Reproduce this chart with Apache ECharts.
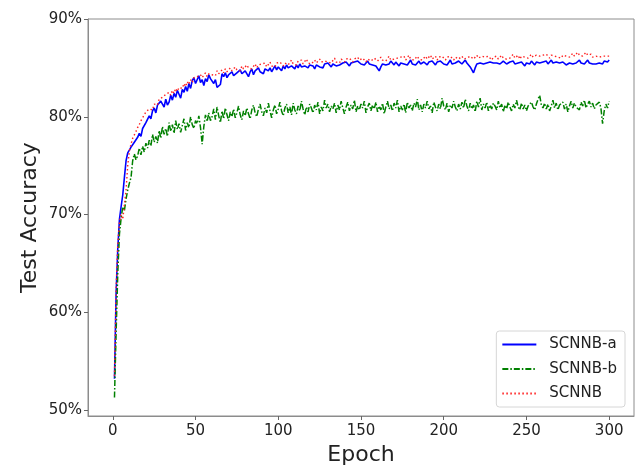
<!DOCTYPE html>
<html>
<head>
<meta charset="utf-8">
<script src="https://cdn.jsdelivr.net/npm/echarts@6/dist/echarts.min.js"></script>
<style>
  html, body { margin: 0; padding: 0; background: #fff; }
  #chart { width: 637px; height: 465px; }
</style>
</head>
<body>
<div id="chart"></div>
<script>
var seriesNames = ['SCNNB-a', 'SCNNB-b', 'SCNNB'];
var xTicks = [0, 50, 100, 150, 200, 250, 300];
var yTicks = [50, 60, 70, 80, 90];

// test accuracy (%) per epoch
var accA = [
  53.2, 62.0, 66.5, 69.5, 70.8, 72.0, 73.8, 75.5, 76.3, 76.6,
  76.9, 77.0, 77.4, 77.2, 77.9, 78.3, 78.0, 78.8, 78.6, 79.4,
  79.2, 80.1, 79.8, 80.6, 80.9, 80.4, 81.2, 81.0, 81.6, 81.3,
  81.0, 81.8, 81.2, 81.5, 82.2, 81.7, 82.4, 82.0, 82.7, 82.3,
  81.9, 82.8, 82.5, 83.1, 82.6, 83.4, 82.9, 83.7, 84.0, 83.4,
  83.6, 84.2, 83.5, 83.8, 83.2, 83.9, 83.6, 84.3, 83.9, 84.1,
  83.4, 83.8, 83.0, 82.9, 83.3, 84.4, 84.1, 84.5, 84.0, 84.3,
  84.1, 84.6, 84.2, 84.0, 84.5, 84.3, 84.8, 84.4, 84.2, 84.7,
  84.5, 84.1, 84.6, 84.9, 84.3, 84.7, 84.5, 85.0, 84.6, 84.8,
  84.4, 84.9, 85.1, 84.7, 85.0, 84.6, 84.9, 85.2, 84.8, 85.1,
  85.0, 84.7, 85.2, 84.9, 85.3, 85.0, 84.8, 85.2, 85.1, 84.9,
  85.3, 85.0, 85.4, 85.1, 84.9, 85.2, 85.4, 85.0, 85.3, 85.1,
  85.2, 84.9, 85.3, 85.5, 85.1, 85.3, 85.0, 85.4, 85.2, 85.5,
  85.3, 85.1, 85.4, 85.6, 85.2, 85.4, 85.3, 85.1, 85.5, 85.3,
  85.6, 85.4, 85.2, 85.5, 85.3, 85.6, 85.4, 85.7, 85.5, 85.4,
  85.6, 85.3, 85.5, 85.7, 85.4, 85.6, 85.3, 85.5, 85.2, 85.0,
  84.7, 85.1, 85.4, 85.6, 85.3, 85.5, 85.4, 85.7, 85.5, 85.3,
  85.6, 85.4, 85.2, 85.5, 85.7, 85.4, 85.6, 85.3, 85.5, 85.8,
  85.4, 85.6, 85.3, 85.5, 85.7, 85.4, 85.2, 85.6, 85.5, 85.3,
  85.6, 85.4, 85.7, 85.5, 85.3, 85.6, 85.4, 85.7, 85.5, 85.4,
  85.6, 85.3, 85.5, 85.8, 85.4, 85.6, 85.5, 85.3, 85.7, 85.5,
  85.4, 85.6, 85.8, 85.5, 85.3, 85.1, 84.8, 84.5, 85.0, 85.4,
  85.6, 85.5, 85.7, 85.4, 85.6, 85.5, 85.3, 85.6, 85.4, 85.5,
  85.7, 85.5, 85.6, 85.4, 85.5, 85.7, 85.6, 85.4, 85.5, 85.6,
  85.5, 85.7, 85.4, 85.6, 85.5, 85.3, 85.6, 85.4, 85.2, 85.5,
  85.6, 85.4, 85.7, 85.5, 85.3, 85.6, 85.8, 85.5, 85.4, 85.6,
  85.5, 85.7, 85.4, 85.6, 85.8, 85.5, 85.3, 85.6, 85.7, 85.5,
  85.4, 85.6, 85.5, 85.3, 85.4, 85.5, 85.6, 85.4, 85.3, 85.5,
  85.6, 85.8, 85.5, 85.7, 85.4, 85.6, 85.8, 85.5, 85.3, 85.4,
  85.6, 85.4, 85.3, 85.5, 85.6, 85.4, 85.7, 85.5, 85.6, 85.8
];
var accB = [
  51.3, 58.0, 64.0, 68.0, 69.6, 70.8, 70.4, 71.6, 72.5, 73.2,
  73.8, 75.5, 76.2, 75.6, 76.0, 76.8, 76.1, 77.0, 76.4, 77.3,
  76.8, 77.6, 77.0, 78.2, 77.4, 78.0, 77.3, 78.6, 77.8, 79.0,
  78.2, 78.8, 78.0, 79.4, 78.5, 79.2, 78.3, 79.6, 78.7, 79.3,
  78.4, 79.1, 79.8, 78.6, 79.4, 78.9, 80.0, 79.2, 78.8, 79.6,
  79.3, 80.1, 78.9, 77.2, 79.0, 80.2, 79.5, 80.4, 79.6, 80.0,
  80.8, 79.7, 81.0, 80.1, 79.4, 80.6, 79.8, 80.9, 80.2, 79.6,
  80.5, 80.0, 80.8, 79.9, 80.4, 81.1, 80.2, 79.7, 80.6, 80.1,
  80.9, 80.3, 79.8, 80.7, 81.2, 80.4, 80.0, 80.8, 81.3, 80.5,
  80.1, 80.9, 80.4, 81.4, 80.6, 79.9, 80.7, 81.2, 80.3, 80.8,
  81.5, 80.6, 80.1, 80.9, 81.3, 80.4, 81.0, 80.2, 81.4, 80.7,
  80.3, 81.1, 80.6, 81.6, 80.8, 80.2, 81.0, 80.5, 81.3, 80.9,
  80.4, 81.2, 80.7, 81.5, 80.3, 81.0, 80.6, 81.7, 80.9, 81.3,
  80.5, 81.1, 80.8, 81.4, 80.4, 81.2, 80.7, 81.6, 80.9, 80.3,
  81.0, 81.5, 80.6, 81.2, 80.8, 81.7, 80.5, 81.1, 80.7, 81.3,
  80.9, 81.6, 80.4, 81.0, 81.4, 80.6, 81.2, 80.8, 81.5, 80.5,
  81.1, 80.7, 81.4, 80.3, 81.0, 81.6, 80.8, 81.2, 80.6, 81.4,
  80.9, 81.7, 80.5, 81.1, 80.7, 81.3, 80.4, 81.5, 80.9, 81.2,
  80.6, 81.4, 81.0, 81.8, 80.7, 81.2, 80.5, 81.3, 80.9, 81.6,
  80.8, 81.1, 80.4, 81.5, 81.0, 80.6, 81.3, 80.8, 81.9, 81.1,
  80.7, 81.4, 80.5, 81.2, 80.9, 81.6, 81.0, 80.6, 81.3, 80.8,
  81.5, 80.9, 81.8, 81.1, 80.6, 81.4, 80.8, 81.2, 80.5, 81.6,
  81.0, 81.9, 80.7, 81.3, 80.9, 81.5, 80.6, 81.2, 80.8, 81.4,
  81.1, 80.7, 81.6, 80.9, 81.3, 80.5, 81.2, 80.8, 81.5, 81.0,
  80.6, 81.3, 80.9, 81.7, 81.0, 80.7, 81.4, 80.8, 81.2, 80.6,
  81.1, 80.9, 81.5, 81.0, 80.7, 81.3, 81.8, 82.2, 81.2, 80.9,
  81.4, 80.8, 81.3, 80.6, 81.1, 81.7, 80.9, 81.4, 80.7, 81.2,
  81.0, 81.5, 80.8, 81.3, 80.5, 81.1, 81.6, 80.9, 81.4, 81.0,
  81.2, 80.7, 81.5, 81.1, 81.7, 80.9, 81.3, 81.6, 81.0, 81.4,
  80.8, 81.2, 81.0, 81.5, 80.9, 79.3, 80.6, 81.3, 80.9, 81.6
];
var accC = [
  53.5, 62.5, 67.0, 69.2, 70.0, 69.5, 71.0, 72.5, 75.0, 76.5,
  77.2, 77.8, 78.0, 78.5, 78.9, 79.2, 79.6, 79.8, 80.2, 80.5,
  80.3, 80.8, 81.0, 80.7, 81.3, 81.5, 81.2, 81.8, 81.6, 82.0,
  81.8, 82.3, 82.1, 82.5, 82.2, 82.7, 82.4, 82.9, 82.6, 83.0,
  83.2, 82.9, 83.4, 83.1, 83.6, 83.3, 83.8, 83.5, 84.0, 83.8,
  84.1, 83.9, 84.3, 84.0, 84.2, 84.5, 84.1, 84.4, 84.6, 84.3,
  84.5, 84.2, 84.7, 84.4, 84.6, 84.8, 84.5, 84.9, 84.6, 84.8,
  85.0, 84.7, 84.9, 85.1, 84.8, 85.0, 84.7, 85.2, 84.9, 85.1,
  85.3, 85.0, 85.2, 84.9, 85.1, 85.4, 85.0, 85.3, 85.1, 85.4,
  85.2, 85.5, 85.1, 85.3, 85.6, 85.2, 85.4, 85.1, 85.5, 85.3,
  85.6, 85.4, 85.2, 85.5, 85.7, 85.3, 85.5, 85.8, 85.4, 85.6,
  85.3, 85.7, 85.5, 85.8, 85.4, 85.6, 85.9, 85.5, 85.7, 85.4,
  85.6, 85.8, 85.5, 85.7, 85.9, 85.6, 85.4, 85.7, 85.9, 85.6,
  85.8, 85.5, 85.7, 86.0, 85.6, 85.8, 85.5, 85.9, 85.7, 85.6,
  85.9, 85.7, 86.0, 85.8, 85.6, 85.9, 85.7, 86.1, 85.8, 85.7,
  86.0, 85.8, 85.6, 85.9, 86.1, 85.7, 85.9, 86.0, 85.8, 85.7,
  85.9, 86.1, 85.8, 86.0, 85.7, 85.9, 86.2, 85.8, 86.0, 85.9,
  85.7, 86.0, 85.8, 86.1, 85.9, 86.2, 85.8, 86.0, 86.3, 85.9,
  86.1, 85.8, 86.0, 86.2, 85.9, 86.1, 85.8, 86.0, 86.2, 85.9,
  86.1, 86.3, 85.9, 86.0, 86.2, 85.8, 86.1, 85.9, 86.2, 86.0,
  85.8, 86.1, 85.9, 86.2, 86.0, 85.8, 86.1, 86.3, 85.9, 86.0,
  86.2, 85.9, 86.1, 86.0, 85.8, 86.2, 86.0, 85.9, 86.1, 86.3,
  86.0, 85.9, 86.2, 86.0, 86.1, 85.9, 86.2, 86.0, 85.8, 86.1,
  86.0, 86.2, 85.9, 86.1, 86.3, 86.0, 86.2, 85.9, 86.1, 86.0,
  86.2, 86.4, 86.0, 86.1, 86.3, 85.9, 86.2, 86.0, 86.1, 86.3,
  86.0, 86.2, 86.4, 86.1, 86.0, 86.3, 86.1, 86.2, 86.0, 86.3,
  86.1, 86.4, 86.2, 86.0, 86.3, 86.1, 86.2, 86.4, 86.1, 86.2,
  86.0, 86.3, 86.1, 86.2, 86.4, 86.1, 86.3, 86.5, 86.2, 86.3,
  86.6, 86.3, 86.5, 86.2, 86.4, 86.6, 86.3, 86.2, 86.4, 86.1,
  86.3, 86.2, 86.4, 86.1, 86.3, 86.2, 86.0, 86.2, 86.1, 86.2
];

function withEpochs(arr) {
    return arr.map(function (v, i) { return [i + 1, v]; });
}

var myChart = echarts.init(document.getElementById('chart'));
var font = 'DejaVu Sans';
option = {
    animation: false,
    textStyle: { fontFamily: font },
    grid: {
        left: 88, right: 3, top: 19, bottom: 49,
        outerBoundsMode: 'none',
        show: true, borderColor: '#8c8c8c', borderWidth: 1
    },
    legend: {
        orient: 'vertical',
        right: 12, bottom: 58,
        data: seriesNames,
        itemWidth: 34, itemHeight: 14, itemGap: 9.5,
        padding: [6, 8, 6, 5],
        borderColor: '#d6d6d6', borderWidth: 1, borderRadius: 3,
        backgroundColor: 'rgba(255,255,255,0.8)',
        itemStyle: { color: 'transparent', borderWidth: 0, opacity: 0 },
        textStyle: { fontSize: 15, color: '#222', fontFamily: font, padding: [0, 0, 0, 8] }
    },
    xAxis: {
        type: 'value',
        min: -15, max: 315,
        name: 'Epoch', nameLocation: 'middle', nameGap: 22,
        nameTextStyle: { fontSize: 22, color: '#222', fontFamily: font },
        splitLine: { show: false },
        axisLine: { show: true, onZero: false, lineStyle: { color: '#8c8c8c' } },
        axisTick: { show: true, customValues: xTicks, length: 4, lineStyle: { color: '#666' } },
        axisLabel: { customValues: xTicks, fontSize: 15, color: '#222', margin: 8 }
    },
    yAxis: {
        type: 'value',
        min: 49.4, max: 90,
        name: 'Test Accuracy', nameLocation: 'middle', nameGap: 47,
        nameMoveOverlap: false,
        nameTextStyle: { fontSize: 22, color: '#222', fontFamily: font },
        splitLine: { show: false },
        axisLine: { show: true, onZero: false, lineStyle: { color: '#8c8c8c' } },
        axisTick: { show: true, customValues: yTicks, length: 4, lineStyle: { color: '#666' } },
        axisLabel: {
            customValues: yTicks, fontSize: 15, color: '#222', margin: 6,
            formatter: '{value}%'
        }
    },
    series: [{
        name: seriesNames[0],
        type: 'line',
        data: withEpochs(accA),
        symbol: 'none',
        lineStyle: { color: '#0000ff', width: 1.6, type: 'solid' },
        itemStyle: { color: '#0000ff' }
    }, {
        name: seriesNames[1],
        type: 'line',
        data: withEpochs(accB),
        symbol: 'none',
        lineStyle: { color: '#008000', width: 1.5, type: [6, 2, 1.5, 2] },
        itemStyle: { color: '#008000' }
    }, {
        name: seriesNames[2],
        type: 'line',
        data: withEpochs(accC),
        symbol: 'none',
        lineStyle: { color: '#ff2020', width: 1.4, type: [1.5, 2.5] },
        itemStyle: { color: '#ff2020' }
    }]
};
myChart.setOption(option);
</script>
</body>
</html>
